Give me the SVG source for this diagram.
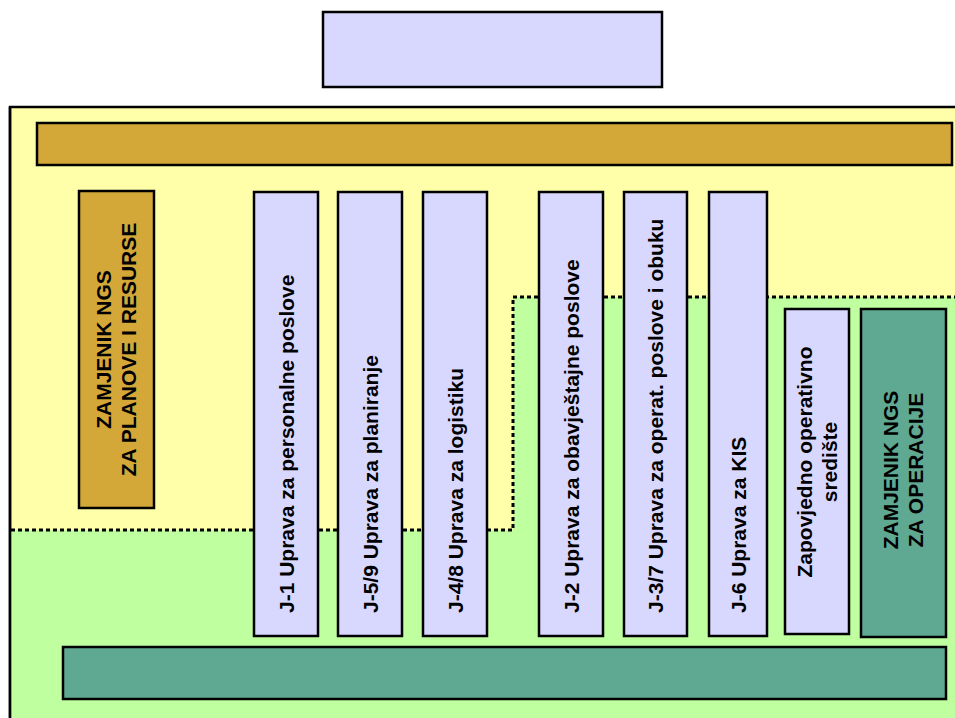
<svg xmlns="http://www.w3.org/2000/svg" width="955" height="718" viewBox="0 0 955 718">
<style>
.b{stroke:#000;stroke-width:2.5}
.lav{fill:#D8D8FF}
.gold{fill:#D4A838}
.teal{fill:#5FA891}
.t{font-family:"Liberation Sans",Arial,sans-serif;font-weight:bold;font-size:21px;fill:#000}
.dot{fill:none;stroke:#000;stroke-width:3;stroke-dasharray:4,3}
</style>
<rect width="955" height="718" fill="#fff"/>
<g id="zones">
<rect x="10" y="107" width="960" height="640" fill="#FFFFAA" class="b"/>
<path d="M11.5 530 H513 V297 H955 V718 H11.5 Z" fill="#BFFF9F"/>
<line x1="10" y1="107" x2="10" y2="718" stroke="#000" stroke-width="2.5"/>
</g>
<g id="connectors">
<path class="dot" d="M11 530 H513 V297 H955"/>
</g>
<g id="top"><rect x="323" y="12" width="339" height="75" class="b lav"/></g>
<g id="goldbar"><rect x="37" y="123" width="915" height="42" class="b gold"/></g>
<g id="zamjenik-planove">
<rect x="79" y="191" width="75" height="317" class="b gold"/>
<text class="t" text-anchor="middle" transform="translate(110.5 349.5) rotate(-90)"><tspan x="0" y="0">ZAMJENIK NGS</tspan><tspan x="0" y="25">ZA PLANOVE I RESURSE</tspan></text>
</g>
<g id="j1"><rect x="254" y="192" width="64" height="444" class="b lav"/><text class="t" transform="translate(293.5 613) rotate(-90)">J-1 Uprava za personalne poslove</text></g>
<g id="j59"><rect x="338" y="192" width="64" height="444" class="b lav"/><text class="t" transform="translate(377.5 613) rotate(-90)">J-5/9 Uprava za planiranje</text></g>
<g id="j48"><rect x="423" y="192" width="64" height="444" class="b lav"/><text class="t" transform="translate(462.5 613) rotate(-90)">J-4/8 Uprava za logistiku</text></g>
<g id="j2"><rect x="539" y="192" width="64" height="444" class="b lav"/><text class="t" transform="translate(578.5 613) rotate(-90)">J-2 Uprava za obavještajne poslove</text></g>
<g id="j37"><rect x="624" y="192" width="63" height="444" class="b lav"/><text class="t" transform="translate(663 613) rotate(-90)">J-3/7 Uprava za operat. poslove i obuku</text></g>
<g id="j6"><rect x="709" y="192" width="58" height="444" class="b lav"/><text class="t" transform="translate(745.5 613) rotate(-90)">J-6 Uprava za KIS</text></g>
<g id="zos">
<rect x="785" y="309" width="64" height="325" class="b lav"/>
<text class="t" text-anchor="middle" transform="translate(811.5 462) rotate(-90)"><tspan x="0" y="0">Zapovjedno operativno</tspan><tspan x="0" y="25">središte</tspan></text>
</g>
<g id="zamjenik-operacije">
<rect x="861" y="309" width="85" height="328" class="b teal"/>
<text class="t" text-anchor="middle" transform="translate(897.5 470) rotate(-90)"><tspan x="0" y="0">ZAMJENIK NGS</tspan><tspan x="0" y="25">ZA OPERACIJE</tspan></text>
</g>
<g id="bottombar"><rect x="63" y="647" width="883" height="52" class="b teal"/></g>
</svg>
